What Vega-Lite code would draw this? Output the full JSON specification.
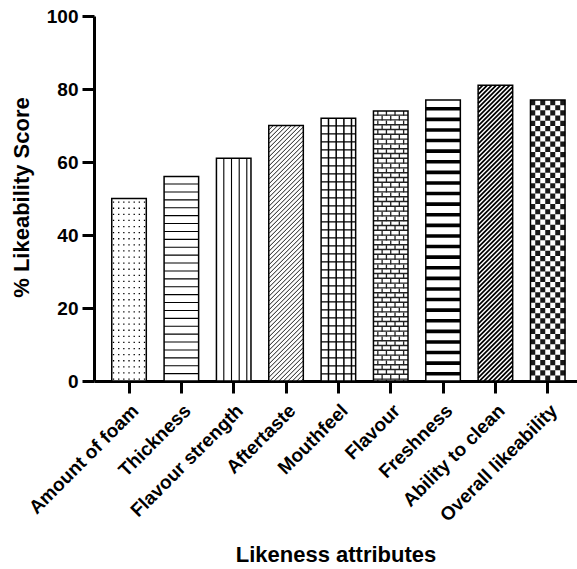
{
  "$schema": "https://vega.github.io/schema/vega-lite/v6.json",
  "width": 483,
  "height": 365,
  "autosize": {"type": "none"},
  "padding": {"left": 94, "top": 16, "right": 0, "bottom": 188},
  "background": "white",
  "config": {"view": {"stroke": null}, "font": "Liberation Sans"},
  "data": {
    "values": [
      {"attr": "Amount of foam", "value": 50},
      {"attr": "Thickness", "value": 56},
      {"attr": "Flavour strength", "value": 61},
      {"attr": "Aftertaste", "value": 70},
      {"attr": "Mouthfeel", "value": 72},
      {"attr": "Flavour", "value": 74},
      {"attr": "Freshness", "value": 77},
      {"attr": "Ability to clean", "value": 81},
      {"attr": "Overall likeability", "value": 77}
    ]
  },
  "encoding": {
    "x": {
      "field": "attr",
      "type": "nominal",
      "sort": null,
      "scale": {
        "domain": ["Amount of foam", "Thickness", "Flavour strength", "Aftertaste", "Mouthfeel", "Flavour", "Freshness", "Ability to clean", "Overall likeability"],
        "paddingInner": 0.34,
        "paddingOuter": 0.284,
        "align": 0.597
      },
      "axis": {
        "title": "Likeness attributes",
        "titleFont": "Liberation Sans",
        "titleFontSize": 22,
        "titleFontWeight": "bold",
        "titleColor": "#000",
        "titleBaseline": "alphabetic",
        "titleY": 180,
        "labelAngle": -45,
        "labelAlign": "right",
        "labelBaseline": "top",
        "labelFont": "Liberation Sans",
        "labelFontSize": 19,
        "labelFontWeight": "bold",
        "labelColor": "#000",
        "labelPadding": 8,
        "labelLimit": 0,
        "domainColor": "#000",
        "domainWidth": 3,
        "tickColor": "#000",
        "tickWidth": 3,
        "tickSize": 12,
        "grid": false
      }
    },
    "y": {
      "field": "value",
      "type": "quantitative",
      "scale": {"domain": [0, 100], "nice": false},
      "axis": {
        "title": "% Likeability Score",
        "titleFont": "Liberation Sans",
        "titleFontSize": 22,
        "titleFontWeight": "bold",
        "titleColor": "#000",
        "titleAngle": -90,
        "titleAlign": "center",
        "titleBaseline": "middle",
        "titleX": -73,
        "titleY": 181,
        "values": [0, 20, 40, 60, 80, 100],
        "labelFont": "Liberation Sans",
        "labelFontSize": 19,
        "labelFontWeight": "bold",
        "labelColor": "#000",
        "labelPadding": 4,
        "domainColor": "#000",
        "domainWidth": 3,
        "tickColor": "#000",
        "tickWidth": 3,
        "tickSize": 12,
        "grid": false
      }
    }
  },
  "layer": [
    {"mark": {"type": "bar", "fill": "white", "strokeWidth": 0}},
    {
      "transform": [{"filter": "datum.attr === 'Amount of foam'"}],
      "mark": {"type": "point", "shape": "M-15.5,3V400M-10.3,3V400M-5.2,3V400M0,3V400M5.2,3V400M10.3,3V400M15.5,3V400", "size": 4, "filled": false, "stroke": "#000", "strokeWidth": 1.3, "strokeDash": [1.3, 4.8], "opacity": 1, "clip": true}
    },
    {
      "transform": [{"filter": "datum.attr === 'Thickness'"}],
      "mark": {"type": "point", "shape": "M0,6.9V400", "size": 4, "filled": false, "stroke": "#000", "strokeWidth": 34.5, "strokeDash": [1.1, 6.8], "opacity": 1, "clip": true}
    },
    {
      "transform": [{"filter": "datum.attr === 'Flavour strength' || datum.attr === 'Mouthfeel'"}],
      "mark": {"type": "point", "shape": "M-9.9,0V400M-2.2,0V400M5.5,0V400M13.1,0V400", "size": 4, "filled": false, "stroke": "#000", "opacity": 1, "clip": true},
      "encoding": {"strokeWidth": {"condition": {"test": "datum.attr === 'Mouthfeel'", "value": 1.5}, "value": 1.1}}
    },
    {
      "transform": [{"filter": "datum.attr === 'Mouthfeel'"}],
      "mark": {"type": "point", "shape": "M0,7V400", "size": 4, "filled": false, "stroke": "#000", "strokeWidth": 34.5, "strokeDash": [1.4, 6.6], "opacity": 1, "clip": true}
    },
    {
      "transform": [{"filter": "datum.attr === 'Aftertaste' || datum.attr === 'Ability to clean'"}],
      "mark": {"type": "point", "shape": "M-17.25,4.5l4.5,-4.5M-17.25,9l9,-9M-17.25,13.5l13.5,-13.5M-17.25,18l18,-18M-17.25,22.5l22.5,-22.5M-17.25,27l27,-27M-17.25,31.5l31.5,-31.5M-17.25,36l34.5,-34.5m-34.5,39l34.5,-34.5m-34.5,39l34.5,-34.5m-34.5,39l34.5,-34.5m-34.5,39l34.5,-34.5m-34.5,39l34.5,-34.5m-34.5,39l34.5,-34.5m-34.5,39l34.5,-34.5m-34.5,39l34.5,-34.5m-34.5,39l34.5,-34.5m-34.5,39l34.5,-34.5m-34.5,39l34.5,-34.5m-34.5,39l34.5,-34.5m-34.5,39l34.5,-34.5m-34.5,39l34.5,-34.5m-34.5,39l34.5,-34.5m-34.5,39l34.5,-34.5m-34.5,39l34.5,-34.5m-34.5,39l34.5,-34.5m-34.5,39l34.5,-34.5m-34.5,39l34.5,-34.5m-34.5,39l34.5,-34.5m-34.5,39l34.5,-34.5m-34.5,39l34.5,-34.5m-34.5,39l34.5,-34.5m-34.5,39l34.5,-34.5m-34.5,39l34.5,-34.5m-34.5,39l34.5,-34.5m-34.5,39l34.5,-34.5m-34.5,39l34.5,-34.5m-34.5,39l34.5,-34.5m-34.5,39l34.5,-34.5m-34.5,39l34.5,-34.5m-34.5,39l34.5,-34.5m-34.5,39l34.5,-34.5m-34.5,39l34.5,-34.5m-34.5,39l34.5,-34.5m-34.5,39l34.5,-34.5m-34.5,39l34.5,-34.5m-34.5,39l34.5,-34.5m-34.5,39l34.5,-34.5m-34.5,39l34.5,-34.5m-34.5,39l34.5,-34.5m-34.5,39l34.5,-34.5m-34.5,39l34.5,-34.5m-34.5,39l34.5,-34.5m-34.5,39l34.5,-34.5m-34.5,39l34.5,-34.5m-34.5,39l34.5,-34.5m-34.5,39l34.5,-34.5m-34.5,39l34.5,-34.5m-34.5,39l34.5,-34.5m-34.5,39l34.5,-34.5m-34.5,39l34.5,-34.5m-34.5,39l34.5,-34.5m-34.5,39l34.5,-34.5m-34.5,39l34.5,-34.5m-34.5,39l34.5,-34.5m-34.5,39l34.5,-34.5m-34.5,39l34.5,-34.5m-34.5,39l34.5,-34.5m-34.5,39l34.5,-34.5m-34.5,39l34.5,-34.5m-34.5,39l34.5,-34.5m-34.5,39l34.5,-34.5m-34.5,39l34.5,-34.5m-34.5,39l34.5,-34.5m-34.5,39l34.5,-34.5m-34.5,39l34.5,-34.5m-34.5,39l34.5,-34.5m-34.5,39l34.5,-34.5m-34.5,39l34.5,-34.5", "size": 4, "filled": false, "stroke": "#000", "opacity": 1, "clip": true},
      "encoding": {"strokeWidth": {"condition": {"test": "datum.attr === 'Ability to clean'", "value": 1.7}, "value": 0.9}}
    },
    {
      "transform": [{"filter": "datum.attr === 'Flavour'"}],
      "mark": {"type": "point", "shape": "M0,3.5V400", "size": 4, "filled": false, "stroke": "#222", "strokeWidth": 34.5, "strokeDash": [1.4, 3.4], "opacity": 1, "clip": true}
    },
    {
      "transform": [{"filter": "datum.attr === 'Flavour'"}],
      "mark": {"type": "point", "shape": "M-12.9,0V400M-4.3,0V400M4.3,0V400M12.9,0V400M-8.6,4.8V400M0,4.8V400M8.6,4.8V400", "size": 4, "filled": false, "stroke": "#222", "strokeWidth": 1.3, "strokeDash": [4.8, 4.8], "opacity": 1, "clip": true}
    },
    {
      "transform": [{"filter": "datum.attr === 'Freshness'"}],
      "mark": {"type": "point", "shape": "M0,7V400", "size": 4, "filled": false, "stroke": "#000", "strokeWidth": 34.5, "strokeDash": [3.6, 7], "opacity": 1, "clip": true}
    },
    {
      "transform": [{"filter": "datum.attr === 'Overall likeability'"}],
      "mark": {"type": "point", "shape": "M-15,0V400M-5,0V400M5,0V400M15,0V400M-10,5.2V400M0,5.2V400M10,5.2V400", "size": 4, "filled": false, "stroke": "#1a1a1a", "strokeWidth": 5, "strokeDash": [5.2, 5.2], "opacity": 1, "clip": true}
    },
    {"mark": {"type": "bar", "fillOpacity": 0, "stroke": "#000", "strokeWidth": 1.5}}
  ]
}
